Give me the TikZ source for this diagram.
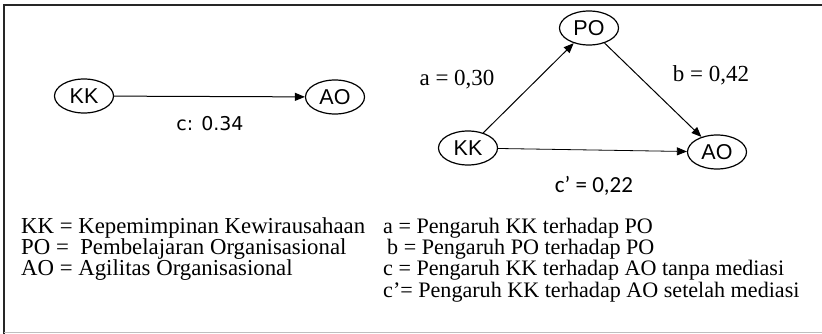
\documentclass[tikz,border=0pt]{standalone}
\usepackage{fontspec}
\setmainfont{Liberation Serif}
\newfontfamily\arialf{Liberation Sans}
\newfontfamily\dejavuf{DejaVu Sans}
\newfontfamily\calibrif{Carlito}
\usetikzlibrary{shapes.geometric,arrows.meta}
\begin{document}
\begin{tikzpicture}[x=1pt,y=-1pt,
  var/.style={ellipse,draw,line width=1.2pt,minimum width=59pt,minimum height=34pt,inner sep=0pt,
    font=\arialf\fontsize{21.5}{21.5}\selectfont},
  link/.style={line width=1pt,-{Triangle[length=10pt,width=8pt]}},
  legl/.style={font=\fontsize{22.8}{22.8}\selectfont,inner sep=0pt,anchor=base west,text height=0.68em,text depth=0.2em},
  legr/.style={font=\fontsize{22.1}{22.1}\selectfont,inner sep=0pt,anchor=base west,text height=0.68em,text depth=0.2em},
  coef/.style={font=\fontsize{23}{23}\selectfont,inner sep=0pt,anchor=base}
]
\useasboundingbox (0,0) rectangle (822,334);
% frame
\draw[line width=2pt,black!85] (822,5) -- (4,5) -- (4,334);
\draw[line width=1pt,black!25] (4,332.5) -- (822,332.5);

% left model
\node[var] (kk1) at (84,96) {KK};
\node[var] (ao1) at (335,97) {AO};
\draw[link] (kk1) -- (ao1);
\node[font=\dejavuf\fontsize{19}{19}\selectfont,inner sep=0pt,anchor=base] (c1) at (210,131) {c: 0.34};

% right model
\node[var] (po2) at (589,28) {PO};
\node[var] (kk2) at (468,148) {KK};
\node[var] (ao2) at (717,152) {AO};
\draw[link] (kk2) -- (po2);
\draw[link] (po2) -- (ao2);
\draw[link,line width=0.8pt] (kk2) -- (ao2);
\node[coef] (a2) at (457,86) {a = 0,30};
\node[coef] (b2) at (711,82) {b = 0,42};
\node[font=\calibrif\fontsize{23}{23}\selectfont,inner sep=0pt,anchor=base] (c2) at (594,192) {c’ = 0,22};

% legend
\node[legl] (l1) at (21,233) {KK = Kepemimpinan Kewirausahaan};
\node[legl] (l2) at (21,254) {PO = \ Pembelajaran Organisasional};
\node[legl] (l3) at (21,275) {AO = Agilitas Organisasional};
\node[legr] (r1) at (383,233) {a = Pengaruh KK terhadap PO};
\node[legr] (r2) at (387,254) {b = Pengaruh PO terhadap PO};
\node[legr] (r3) at (383,275) {c = Pengaruh KK terhadap AO tanpa mediasi};
\node[legr] (r4) at (383,297) {c’= Pengaruh KK terhadap AO setelah mediasi};
\end{tikzpicture}
\end{document}
